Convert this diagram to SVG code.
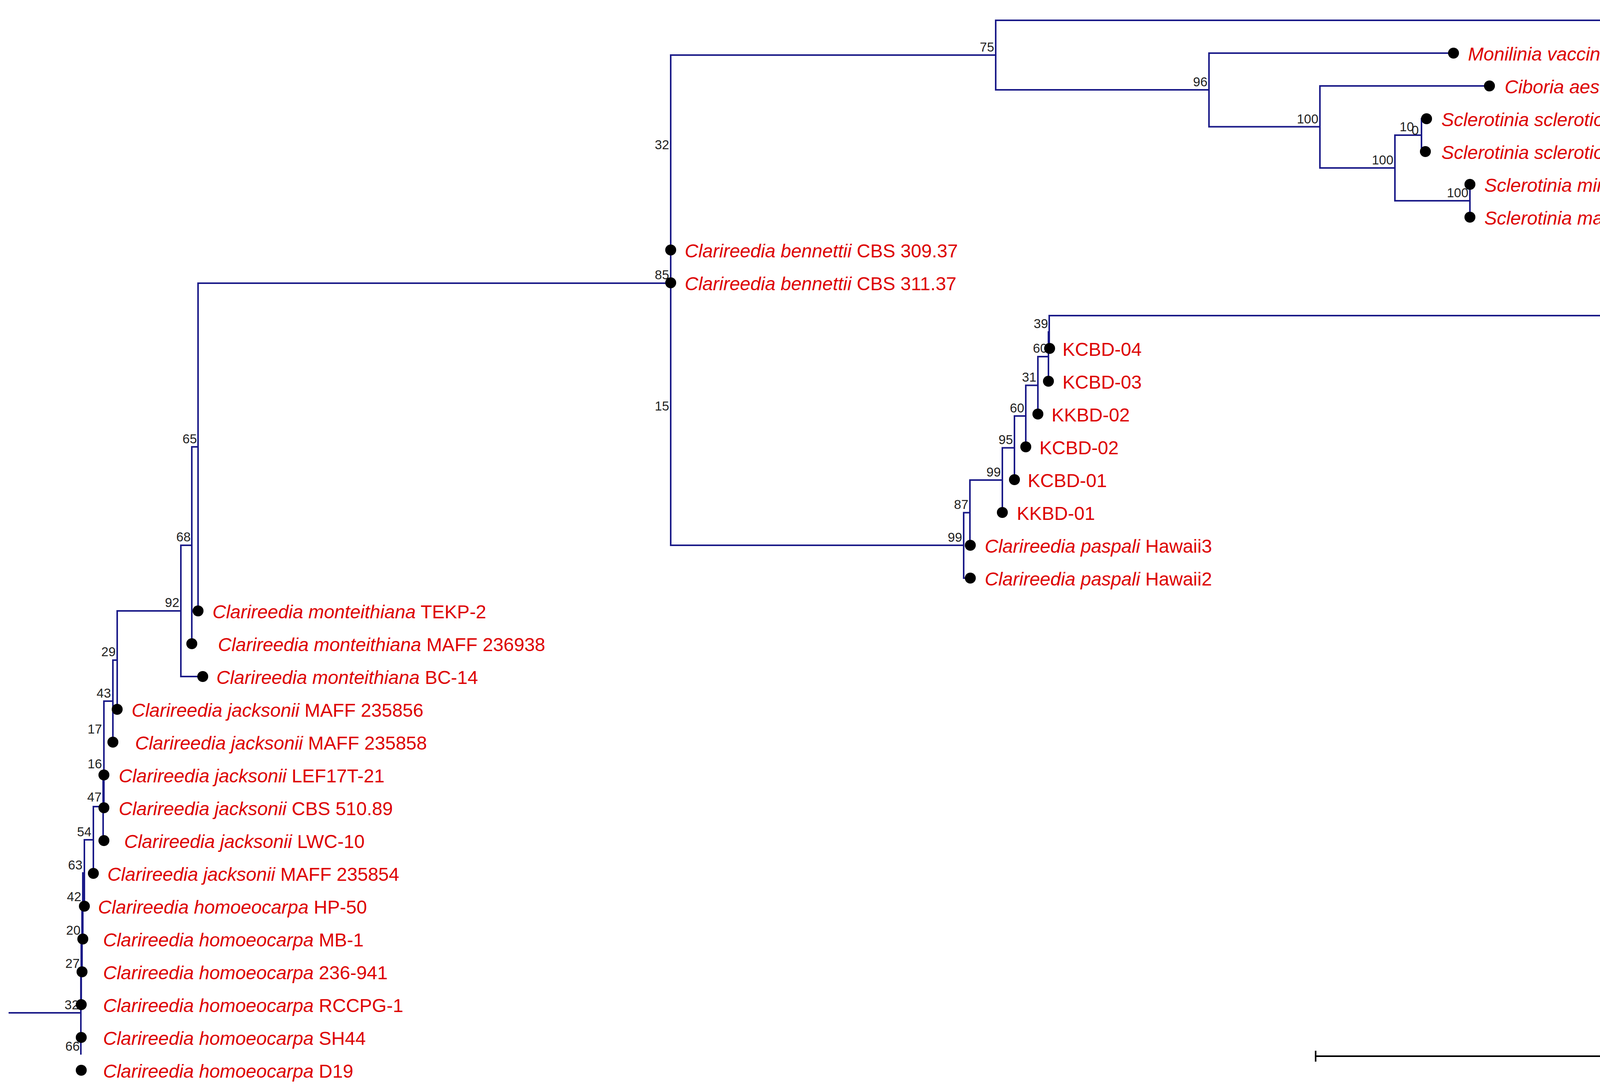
<svg xmlns="http://www.w3.org/2000/svg" width="6301" height="2788" viewBox="0 0 6301 2788">
<style>
.br{fill:none;stroke:#1a1a88;stroke-width:4;stroke-linecap:square}
.dot{fill:#000}
.lf{font-family:"Liberation Sans",Arial,sans-serif;font-size:48px;fill:#dd0000}
.it{font-style:italic}
.bs{font-family:"Liberation Sans",Arial,sans-serif;font-size:33px;fill:#222;text-anchor:end}
.sb{fill:none;stroke:#000;stroke-width:4}
</style>
<rect width="6301" height="2788" fill="#fff"/>
<g id="connectors">
<path class="br" d="M24 2593H207"/>
<path class="br" d="M207 2488V2698"/>
<path class="br" d="M210 2404H208V2572"/>
<path class="br" d="M212 2320H210V2488"/>
<path class="br" d="M216 2235H212V2404"/>
<path class="br" d="M239 2150H216V2320"/>
<path class="br" d="M264 2065H239V2236"/>
<path class="br" d="M266 1978H264V2152H266"/>
<path class="br" d="M266 1889V2068"/>
<path class="br" d="M289 1795H266V1984"/>
<path class="br" d="M300 1690H289V1900"/>
<path class="br" d="M463 1564H300V1816"/>
<path class="br" d="M491 1396H463V1732H519"/>
<path class="br" d="M507 1144H491V1648"/>
<path class="br" d="M1717 725H507V1564"/>
<path class="br" d="M2549 141H1717V1396H2467"/>
<path class="br" d="M5568 52H2549V230H3095"/>
<path class="br" d="M3721 136H3095V324.5H3379"/>
<path class="br" d="M3813 220H3379V430H3571"/>
<path class="br" d="M3639 346H3571V514H3763"/>
<path class="br" d="M3652 304H3639V388H3649"/>
<path class="br" d="M3763 472V556"/>
<path class="br" d="M2483 1312.6H2467V1480H2484"/>
<path class="br" d="M2566 1229H2483V1396H2484"/>
<path class="br" d="M2597 1146.5H2566V1312"/>
<path class="br" d="M2626 1065H2597V1228"/>
<path class="br" d="M2657 986.5H2626V1144"/>
<path class="br" d="M2684 913H2657V1060"/>
<path class="br" d="M2686 850H2684V976"/>
<path class="br" d="M5066 808H2686V892H2687"/>
</g>
<g id="bootstrap">
<g id="n75"><text class="bs" x="2545" y="132">75</text></g>
<g id="n96"><text class="bs" x="3091" y="221">96</text></g>
<g id="n100a"><text class="bs" x="3375" y="316">100</text></g>
<g id="n100b"><text class="bs" x="3567" y="421">100</text></g>
<g id="n100c"><text class="bs" x="3583" y="336" style="text-anchor:start">10<tspan dx="-6" dy="9">0</tspan></text></g>
<g id="n100d"><text class="bs" x="3759" y="505">100</text></g>
<g id="n32"><text class="bs" x="1713" y="382">32</text></g>
<g id="n85"><text class="bs" x="1713" y="715">85</text></g>
<g id="n15"><text class="bs" x="1713" y="1051">15</text></g>
<g id="n99low"><text class="bs" x="2463" y="1387">99</text></g>
<g id="n87"><text class="bs" x="2479" y="1303">87</text></g>
<g id="n99up"><text class="bs" x="2562" y="1220">99</text></g>
<g id="n95"><text class="bs" x="2593" y="1137">95</text></g>
<g id="n60"><text class="bs" x="2622" y="1056">60</text></g>
<g id="n31"><text class="bs" x="2653" y="977">31</text></g>
<g id="n60b"><text class="bs" x="2681" y="903">60</text></g>
<g id="n39"><text class="bs" x="2683" y="840">39</text></g>
<g id="n65"><text class="bs" x="504" y="1135">65</text></g>
<g id="n68"><text class="bs" x="488" y="1386">68</text></g>
<g id="n92"><text class="bs" x="459" y="1554">92</text></g>
<g id="n29"><text class="bs" x="296" y="1680">29</text></g>
<g id="n43"><text class="bs" x="284" y="1786">43</text></g>
<g id="n17"><text class="bs" x="261" y="1878">17</text></g>
<g id="n16"><text class="bs" x="261" y="1967">16</text></g>
<g id="n47"><text class="bs" x="260" y="2052">47</text></g>
<g id="n54"><text class="bs" x="234" y="2141">54</text></g>
<g id="n63"><text class="bs" x="211" y="2226">63</text></g>
<g id="n42"><text class="bs" x="208" y="2307">42</text></g>
<g id="n20"><text class="bs" x="206" y="2393">20</text></g>
<g id="n27"><text class="bs" x="204" y="2478">27</text></g>
<g id="n32b"><text class="bs" x="202" y="2584">32</text></g>
<g id="n66"><text class="bs" x="204" y="2690">66</text></g>
</g>
<g id="leaves">
<g id="leaf-sulcata"><circle class="dot" cx="5568" cy="52" r="14"/><text class="lf" x="5606" y="71"><tspan class="it">Sclerotinia sulcata</tspan> CBS 303.31</text></g>
<g id="leaf-monilinia"><circle class="dot" cx="3721" cy="136" r="14"/><text class="lf" x="3758" y="155"><tspan class="it">Monilinia vaccinii-corymbosi</tspan> SSI-1</text></g>
<g id="leaf-ciboria"><circle class="dot" cx="3813" cy="220" r="14"/><text class="lf" x="3852" y="239"><tspan class="it">Ciboria aestivalis</tspan> CBS:119.47</text></g>
<g id="leaf-ss1"><circle class="dot" cx="3652" cy="304" r="14"/><text class="lf" x="3690" y="323"><tspan class="it">Sclerotinia sclerotiorum</tspan> SS1</text></g>
<g id="leaf-ss5"><circle class="dot" cx="3649" cy="388" r="14"/><text class="lf" x="3690" y="407"><tspan class="it">Sclerotinia sclerotiorum</tspan> SS5</text></g>
<g id="leaf-minor"><circle class="dot" cx="3763" cy="472" r="14"/><text class="lf" x="3800" y="491"><tspan class="it">Sclerotinia minor</tspan> CBS 112.17</text></g>
<g id="leaf-matthiolae"><circle class="dot" cx="3763" cy="556" r="14"/><text class="lf" x="3800" y="575"><tspan class="it">Sclerotinia matthiolae</tspan> CBS 111.17</text></g>
<g id="leaf-benn309"><circle class="dot" cx="1717" cy="640" r="14"/><text class="lf" x="1753" y="659"><tspan class="it">Clarireedia bennettii</tspan> CBS 309.37</text></g>
<g id="leaf-benn311"><circle class="dot" cx="1717" cy="724" r="14"/><text class="lf" x="1753" y="743"><tspan class="it">Clarireedia bennettii</tspan> CBS 311.37</text></g>
<g id="leaf-kkbd36"><circle class="dot" cx="5066" cy="808" r="14"/><text class="lf" x="5104" y="827">KKBD-36</text></g>
<g id="leaf-kcbd04"><circle class="dot" cx="2687" cy="892" r="14"/><text class="lf" x="2720" y="911">KCBD-04</text></g>
<g id="leaf-kcbd03"><circle class="dot" cx="2684" cy="976" r="14"/><text class="lf" x="2720" y="995">KCBD-03</text></g>
<g id="leaf-kkbd02"><circle class="dot" cx="2657" cy="1060" r="14"/><text class="lf" x="2692" y="1079">KKBD-02</text></g>
<g id="leaf-kcbd02"><circle class="dot" cx="2626" cy="1144" r="14"/><text class="lf" x="2661" y="1163">KCBD-02</text></g>
<g id="leaf-kcbd01"><circle class="dot" cx="2597" cy="1228" r="14"/><text class="lf" x="2631" y="1247">KCBD-01</text></g>
<g id="leaf-kkbd01"><circle class="dot" cx="2566" cy="1312" r="14"/><text class="lf" x="2603" y="1331">KKBD-01</text></g>
<g id="leaf-hawaii3"><circle class="dot" cx="2484" cy="1396" r="14"/><text class="lf" x="2521" y="1415"><tspan class="it">Clarireedia paspali</tspan> Hawaii3</text></g>
<g id="leaf-hawaii2"><circle class="dot" cx="2484" cy="1480" r="14"/><text class="lf" x="2521" y="1499"><tspan class="it">Clarireedia paspali</tspan> Hawaii2</text></g>
<g id="leaf-tekp2"><circle class="dot" cx="507" cy="1564" r="14"/><text class="lf" x="544" y="1583"><tspan class="it">Clarireedia monteithiana</tspan> TEKP-2</text></g>
<g id="leaf-maff236938"><circle class="dot" cx="491" cy="1648" r="14"/><text class="lf" x="558" y="1667"><tspan class="it">Clarireedia monteithiana</tspan> MAFF 236938</text></g>
<g id="leaf-bc14"><circle class="dot" cx="519" cy="1732" r="14"/><text class="lf" x="554" y="1751"><tspan class="it">Clarireedia monteithiana</tspan> BC-14</text></g>
<g id="leaf-maff235856"><circle class="dot" cx="300" cy="1816" r="14"/><text class="lf" x="337" y="1835"><tspan class="it">Clarireedia jacksonii</tspan> MAFF 235856</text></g>
<g id="leaf-maff235858"><circle class="dot" cx="289" cy="1900" r="14"/><text class="lf" x="346" y="1919"><tspan class="it">Clarireedia jacksonii</tspan> MAFF 235858</text></g>
<g id="leaf-lef17t21"><circle class="dot" cx="266" cy="1984" r="14"/><text class="lf" x="304" y="2003"><tspan class="it">Clarireedia jacksonii</tspan> LEF17T-21</text></g>
<g id="leaf-cbs51089"><circle class="dot" cx="266" cy="2068" r="14"/><text class="lf" x="304" y="2087"><tspan class="it">Clarireedia jacksonii</tspan> CBS 510.89</text></g>
<g id="leaf-lwc10"><circle class="dot" cx="266" cy="2152" r="14"/><text class="lf" x="318" y="2171"><tspan class="it">Clarireedia jacksonii</tspan> LWC-10</text></g>
<g id="leaf-maff235854"><circle class="dot" cx="239" cy="2236" r="14"/><text class="lf" x="275" y="2255"><tspan class="it">Clarireedia jacksonii</tspan> MAFF 235854</text></g>
<g id="leaf-hp50"><circle class="dot" cx="216" cy="2320" r="14"/><text class="lf" x="251" y="2339"><tspan class="it">Clarireedia homoeocarpa</tspan> HP-50</text></g>
<g id="leaf-mb1"><circle class="dot" cx="212" cy="2404" r="14"/><text class="lf" x="264" y="2423"><tspan class="it">Clarireedia homoeocarpa</tspan> MB-1</text></g>
<g id="leaf-236941"><circle class="dot" cx="210" cy="2488" r="14"/><text class="lf" x="264" y="2507"><tspan class="it">Clarireedia homoeocarpa</tspan> 236-941</text></g>
<g id="leaf-rccpg1"><circle class="dot" cx="208" cy="2572" r="14"/><text class="lf" x="264" y="2591"><tspan class="it">Clarireedia homoeocarpa</tspan> RCCPG-1</text></g>
<g id="leaf-sh44"><circle class="dot" cx="208" cy="2656" r="14"/><text class="lf" x="264" y="2675"><tspan class="it">Clarireedia homoeocarpa</tspan> SH44</text></g>
<g id="leaf-d19"><circle class="dot" cx="208" cy="2740" r="14"/><text class="lf" x="264" y="2759"><tspan class="it">Clarireedia homoeocarpa</tspan> D19</text></g>
</g>
<g id="scale-bar">
<path class="sb" d="M3368 2704H5499M3368 2690V2718M5499 2690V2718"/>
<text x="4432" y="2685" text-anchor="middle" font-family="Liberation Sans, Arial, sans-serif" font-size="50" fill="#000">0.350</text>
</g>
</svg>
